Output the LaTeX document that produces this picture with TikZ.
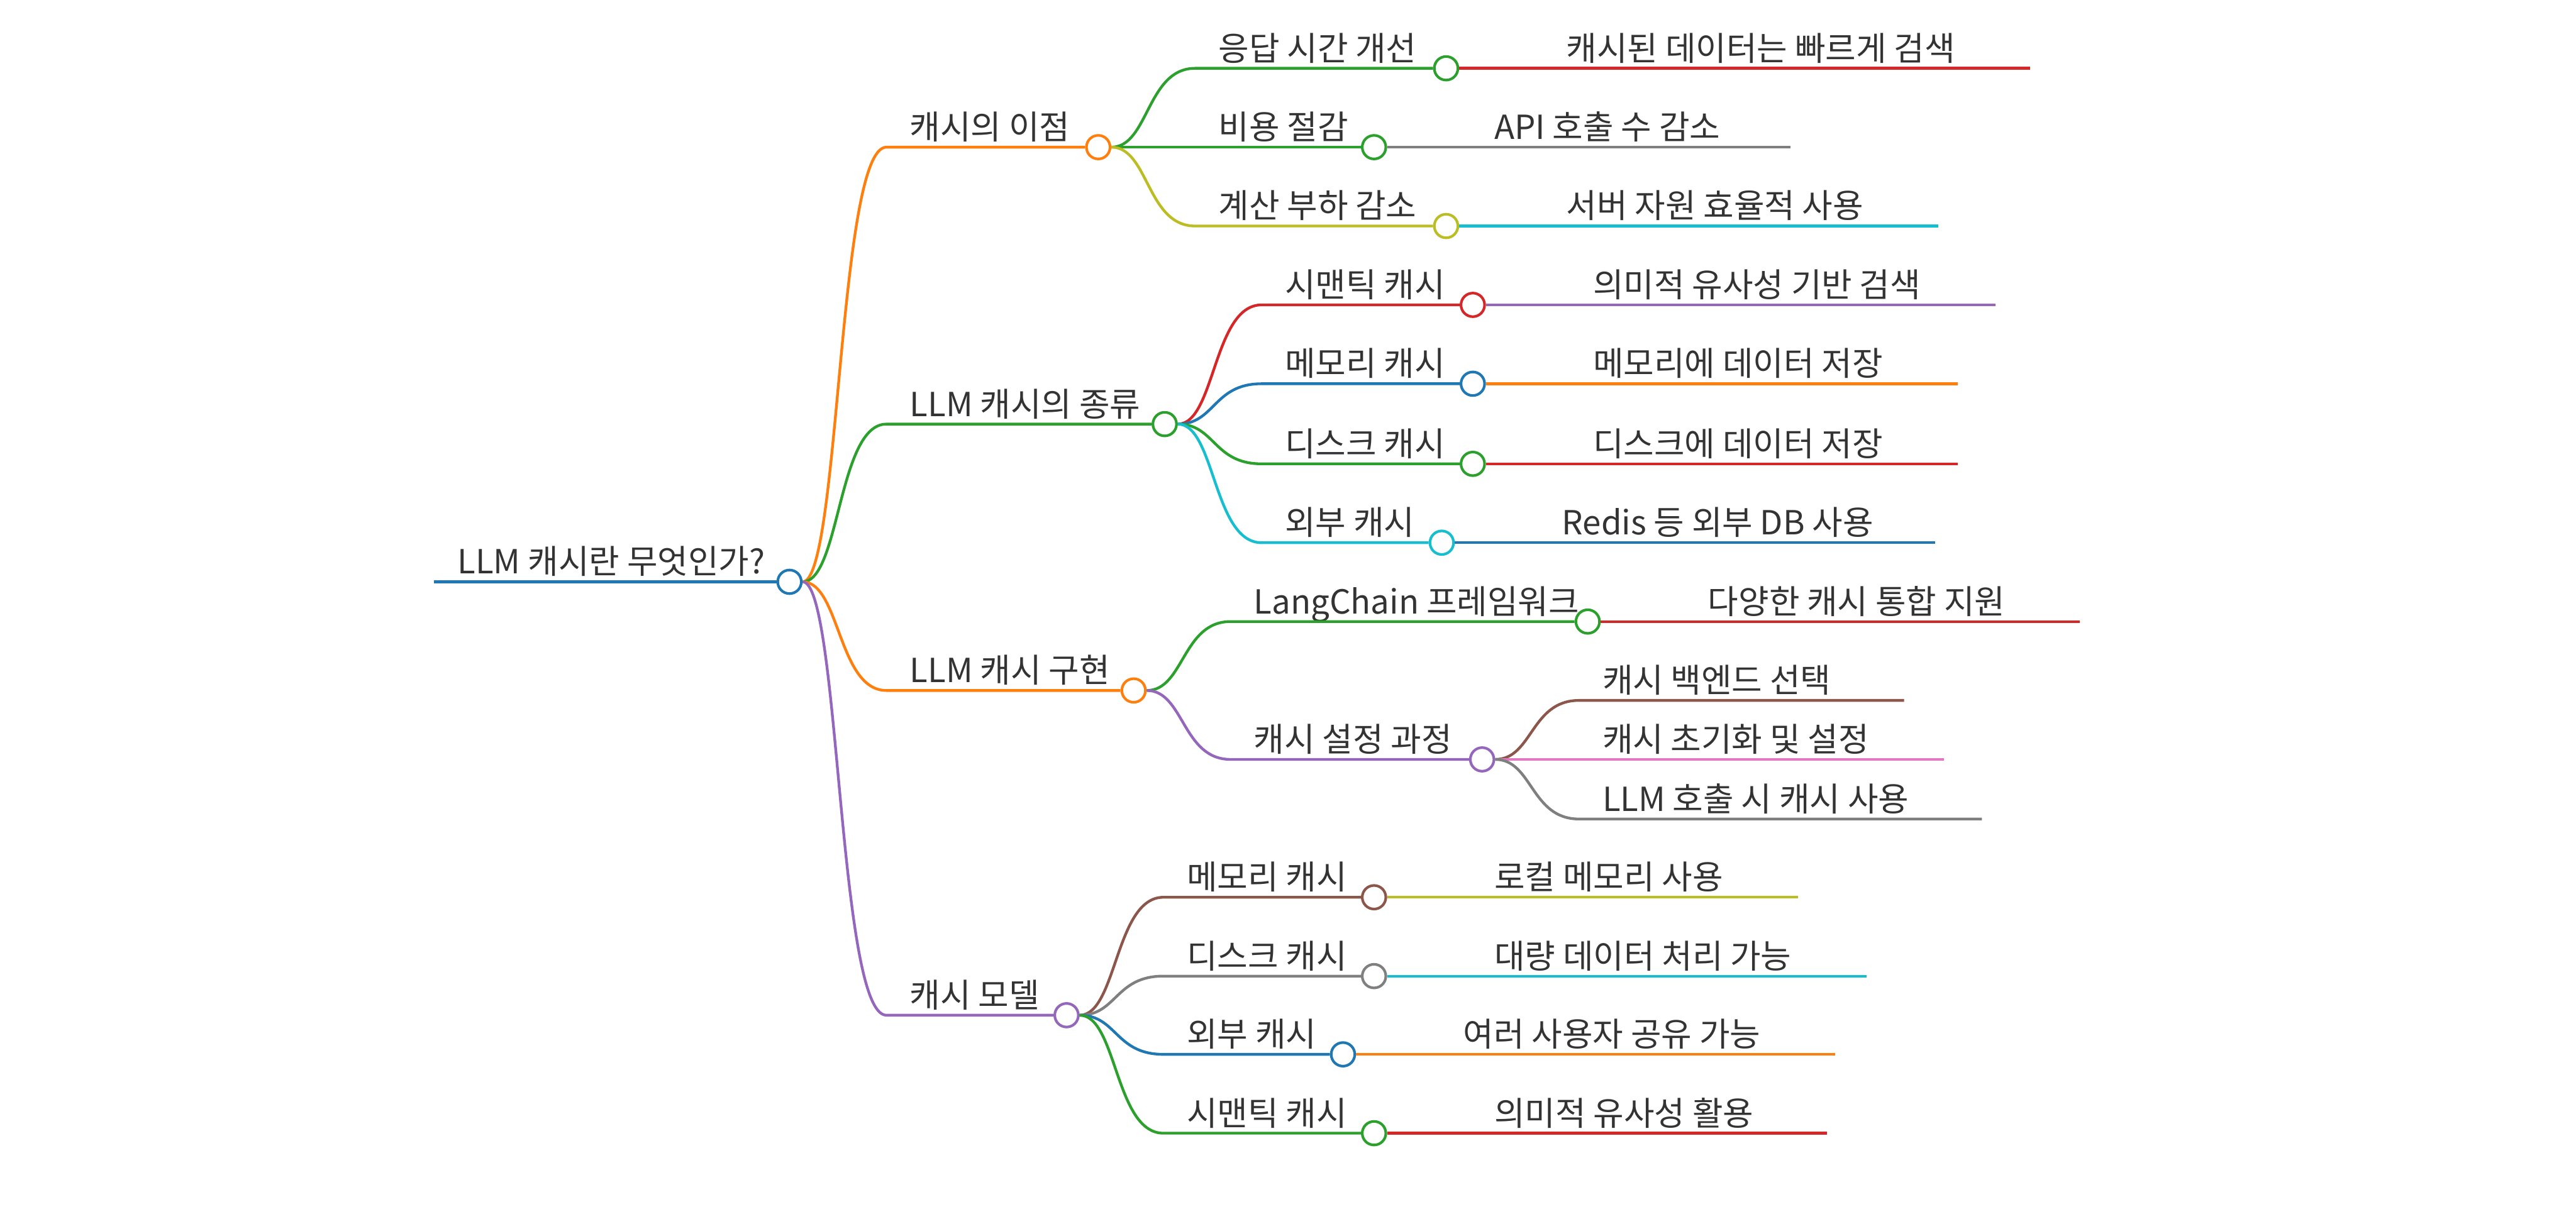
\documentclass[tikz,border=0pt]{standalone}
\usepackage{fontspec}
\setmainfont{Noto Sans CJK KR}
\definecolor{cblue}{HTML}{1F77B4}
\definecolor{corange}{HTML}{FF7F0E}
\definecolor{cgreen}{HTML}{2CA02C}
\definecolor{cred}{HTML}{D62728}
\definecolor{cpurple}{HTML}{9467BD}
\definecolor{cbrown}{HTML}{8C564B}
\definecolor{cpink}{HTML}{E377C2}
\definecolor{cgray}{HTML}{7F7F7F}
\definecolor{colive}{HTML}{BCBD22}
\definecolor{ccyan}{HTML}{17BECF}
\definecolor{ink}{HTML}{333333}

\begin{document}
\begin{tikzpicture}[x=1cm, y=-1cm,
    topic/.style={anchor=south west, inner xsep=0.37cm, inner ysep=0.12cm, text depth=0pt, text=ink, font=\fontsize{15.2}{18}\selectfont},
    dot/.style={circle, draw=#1, fill=white, line width=1.2pt, minimum size=0.38cm, inner sep=0pt},
    trunk/.style={line width=1.7pt},
    branch/.style={line width=1.25pt},
    link/.style={to path={.. controls +(0.6,0) and +(-0.78,0) .. (\tikztotarget)}}]
    \useasboundingbox (0,0) rectangle (41.47,19.71);

    \node[topic] (root) at (6.99,9.37) {LLM 캐시란 무엇인가?};
    \node[dot=cblue] (root-o) at (12.71,9.37) {};
    \draw[cblue, trunk] (root.south west) -- (root-o);

    \node[topic] (benefit) at (14.27,2.37) {캐시의 이점};
    \node[dot=corange] (benefit-o) at (17.68,2.37) {};
    \node[topic] (kinds) at (14.27,6.83) {LLM 캐시의 종류};
    \node[dot=cgreen] (kinds-o) at (18.75,6.83) {};
    \node[topic] (impl) at (14.27,11.12) {LLM 캐시 구현};
    \node[dot=corange] (impl-o) at (18.25,11.12) {};
    \node[topic] (model) at (14.27,16.35) {캐시 모델};
    \node[dot=cpurple] (model-o) at (17.17,16.35) {};
    \draw[corange, branch] (root-o.east) to[link] (benefit.south west) -- (benefit-o);
    \draw[cgreen, branch] (root-o.east) to[link] (kinds.south west) -- (kinds-o);
    \draw[corange, branch] (root-o.east) to[link] (impl.south west) -- (impl-o);
    \draw[cpurple, branch] (root-o.east) to[link] (model.south west) -- (model-o);

    \node[topic] (speed) at (19.24,1.10) {응답 시간 개선};
    \node[dot=cgreen] (speed-o) at (23.28,1.10) {};
    \node[topic] (cost) at (19.24,2.37) {비용 절감};
    \node[dot=cgreen] (cost-o) at (22.12,2.37) {};
    \node[topic] (load) at (19.24,3.64) {계산 부하 감소};
    \node[dot=colive] (load-o) at (23.28,3.64) {};
    \draw[cgreen, branch] (benefit-o.east) to[link] (speed.south west) -- (speed-o);
    \draw[cgreen, branch] (benefit-o.east) to[link] (cost.south west) -- (cost-o);
    \draw[colive, branch] (benefit-o.east) to[link] (load.south west) -- (load-o);
    \node[topic] (speed-leaf) at (24.84,1.10) {캐시된 데이터는 빠르게 검색};
    \node[topic] (cost-leaf) at (23.68,2.37) {API 호출 수 감소};
    \node[topic] (load-leaf) at (24.84,3.64) {서버 자원 효율적 사용};
    \draw[cred, branch] (speed-o.east) -- (speed-leaf.south west) -- ([xshift=0.83cm]speed-leaf.south east);
    \draw[cgray, branch] (cost-o.east) -- (cost-leaf.south west) -- ([xshift=0.75cm]cost-leaf.south east);
    \draw[ccyan, branch] (load-o.east) -- (load-leaf.south west) -- ([xshift=0.83cm]load-leaf.south east);

    \node[topic] (semantic) at (20.31,4.91) {시맨틱 캐시};
    \node[dot=cred] (semantic-o) at (23.71,4.91) {};
    \node[topic] (memory) at (20.31,6.18) {메모리 캐시};
    \node[dot=cblue] (memory-o) at (23.71,6.18) {};
    \node[topic] (disk) at (20.31,7.47) {디스크 캐시};
    \node[dot=cgreen] (disk-o) at (23.71,7.47) {};
    \node[topic] (external) at (20.31,8.74) {외부 캐시};
    \node[dot=ccyan] (external-o) at (23.21,8.74) {};
    \draw[cred, branch] (kinds-o.east) to[link] (semantic.south west) -- (semantic-o);
    \draw[cblue, branch] (kinds-o.east) to[link] (memory.south west) -- (memory-o);
    \draw[cgreen, branch] (kinds-o.east) to[link] (disk.south west) -- (disk-o);
    \draw[ccyan, branch] (kinds-o.east) to[link] (external.south west) -- (external-o);
    \node[topic] (semantic-leaf) at (25.27,4.91) {의미적 유사성 기반 검색};
    \node[topic] (memory-leaf) at (25.27,6.18) {메모리에 데이터 저장};
    \node[topic] (disk-leaf) at (25.27,7.47) {디스크에 데이터 저장};
    \node[topic] (external-leaf) at (24.77,8.74) {Redis 등 외부 DB 사용};
    \draw[cpurple, branch] (semantic-o.east) -- (semantic-leaf.south west) -- ([xshift=0.83cm]semantic-leaf.south east);
    \draw[corange, branch] (memory-o.east) -- (memory-leaf.south west) -- ([xshift=0.83cm]memory-leaf.south east);
    \draw[cred, branch] (disk-o.east) -- (disk-leaf.south west) -- ([xshift=0.83cm]disk-leaf.south east);
    \draw[cblue, branch] (external-o.east) -- (external-leaf.south west) -- ([xshift=0.62cm]external-leaf.south east);

    \node[topic] (langchain) at (19.81,10.01) {LangChain 프레임워크};
    \node[dot=cgreen] (langchain-o) at (25.56,10.01) {};
    \node[topic] (setup) at (19.81,12.23) {캐시 설정 과정};
    \node[dot=cpurple] (setup-o) at (23.86,12.23) {};
    \draw[cgreen, branch] (impl-o.east) to[link] (langchain.south west) -- (langchain-o);
    \draw[cpurple, branch] (impl-o.east) to[link] (setup.south west) -- (setup-o);
    \node[topic] (langchain-leaf) at (27.12,10.01) {다양한 캐시 통합 지원};
    \draw[cred, branch] (langchain-o.east) -- (langchain-leaf.south west) -- ([xshift=0.83cm]langchain-leaf.south east);
    \node[topic] (backend) at (25.42,11.28) {캐시 백엔드 선택};
    \node[topic] (init) at (25.42,12.23) {캐시 초기화 및 설정};
    \node[topic] (call) at (25.42,13.19) {LLM 호출 시 캐시 사용};
    \draw[cbrown, branch] (setup-o.east) to[link] (backend.south west) -- ([xshift=0.8cm]backend.south east);
    \draw[cpink, branch] (setup-o.east) to[link] (init.south west) -- ([xshift=0.83cm]init.south east);
    \draw[cgray, branch] (setup-o.east) to[link] (call.south west) -- ([xshift=0.8cm]call.south east);

    \node[topic] (mmemory) at (18.73,14.45) {메모리 캐시};
    \node[dot=cbrown] (mmemory-o) at (22.12,14.45) {};
    \node[topic] (mdisk) at (18.73,15.72) {디스크 캐시};
    \node[dot=cgray] (mdisk-o) at (22.12,15.72) {};
    \node[topic] (mexternal) at (18.73,16.98) {외부 캐시};
    \node[dot=cblue] (mexternal-o) at (21.62,16.98) {};
    \node[topic] (msemantic) at (18.73,18.25) {시맨틱 캐시};
    \node[dot=cgreen] (msemantic-o) at (22.12,18.25) {};
    \draw[cbrown, branch] (model-o.east) to[link] (mmemory.south west) -- (mmemory-o);
    \draw[cgray, branch] (model-o.east) to[link] (mdisk.south west) -- (mdisk-o);
    \draw[cblue, branch] (model-o.east) to[link] (mexternal.south west) -- (mexternal-o);
    \draw[cgreen, branch] (model-o.east) to[link] (msemantic.south west) -- (msemantic-o);
    \node[topic] (mmemory-leaf) at (23.68,14.45) {로컬 메모리 사용};
    \node[topic] (mdisk-leaf) at (23.68,15.72) {대량 데이터 처리 가능};
    \node[topic] (mexternal-leaf) at (23.18,16.98) {여러 사용자 공유 가능};
    \node[topic] (msemantic-leaf) at (23.68,18.25) {의미적 유사성 활용};
    \draw[colive, branch] (mmemory-o.east) -- (mmemory-leaf.south west) -- ([xshift=0.83cm]mmemory-leaf.south east);
    \draw[ccyan, branch] (mdisk-o.east) -- (mdisk-leaf.south west) -- ([xshift=0.83cm]mdisk-leaf.south east);
    \draw[corange, branch] (mexternal-o.east) -- (mexternal-leaf.south west) -- ([xshift=0.83cm]mexternal-leaf.south east);
    \draw[cred, branch] (msemantic-o.east) -- (msemantic-leaf.south west) -- ([xshift=0.81cm]msemantic-leaf.south east);
\end{tikzpicture}
\end{document}
